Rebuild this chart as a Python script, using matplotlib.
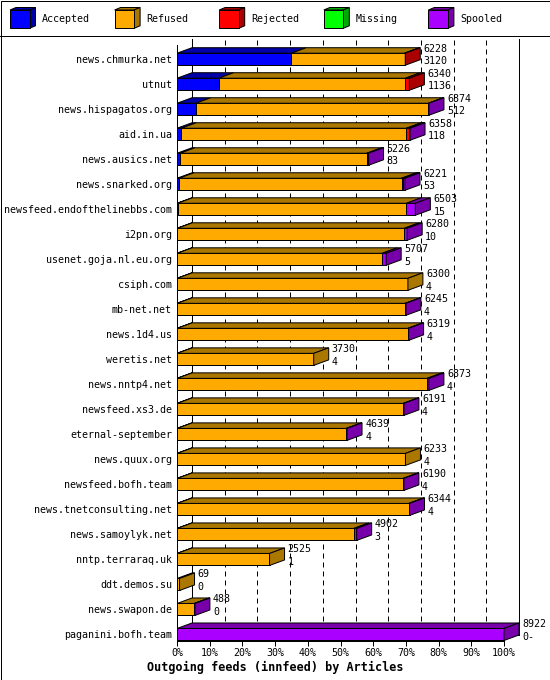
import numpy as np
import matplotlib.pyplot as plt
from matplotlib.patches import Polygon, Rectangle
from matplotlib.lines import Line2D

plt.rcParams['font.family'] = ['DejaVu Sans Mono']
plt.rcParams['font.size'] = 7.2

# feeds, top to bottom
feeds = ['news.chmurka.net', 'utnut', 'news.hispagatos.org', 'aid.in.ua',
         'news.ausics.net', 'news.snarked.org', 'newsfeed.endofthelinebbs.com',
         'i2pn.org', 'usenet.goja.nl.eu.org', 'csiph.com', 'mb-net.net',
         'news.1d4.us', 'weretis.net', 'news.nntp4.net', 'newsfeed.xs3.de',
         'eternal-september', 'news.quux.org', 'newsfeed.bofh.team',
         'news.tnetconsulting.net', 'news.samoylyk.net', 'nntp.terraraq.uk',
         'ddt.demos.su', 'news.swapon.de', 'paganini.bofh.team']
offered = np.array([6228, 6340, 6874, 6358, 5226, 6221, 6503, 6280, 5707, 6300, 6245,
                    6319, 3730, 6873, 6191, 4639, 6233, 6190, 6344, 4902, 2525, 69,
                    488, 8922])
accepted = np.array([3120, 1136, 512, 118, 83, 53, 15, 10, 5, 4, 4, 4, 4, 4, 4, 4, 4,
                     4, 4, 3, 1, 0, 0, 0])
# estimated from the bar segments
rejected = np.array([20, 110, 0, 60, 0, 40, 0, 0, 0, 0, 0, 0, 0, 0, 0, 0, 0, 0, 0, 0,
                     0, 0, 0, 0])
missing = np.zeros(len(feeds), dtype=int)
spooled = np.array([0, 0, 15, 40, 50, 55, 245, 80, 110, 0, 20, 20, 0, 50, 20, 20, 0,
                    20, 20, 80, 0, 0, 20, 8922])
refused = offered - accepted - rejected - missing - spooled

labels = ['Accepted', 'Refused', 'Rejected', 'Missing', 'Spooled']
front_colors = ['#0000FF', '#FFAA00', '#FF0000', '#00FF00', '#AA00FF']
dark_colors = ['#0000A8', '#AA7700', '#AA0000', '#00AA00', '#7700AA']

W, H = 550, 680
fig = plt.figure(figsize=(W / 100, H / 100), dpi=100)

# chart area in pixels
px_left, px_right, px_top, px_bot = 177, 540, 36, 641
pct_px = 3.27
row_px = 25
ax = fig.add_axes([px_left / W, 1 - px_bot / H, (px_right - px_left) / W,
                   (px_bot - px_top) / H])
n = len(feeds)
y = np.arange(n)
top_pad = (59.2 - px_top) / row_px
bot_pad = (px_bot - 634.5) / row_px
ax.set_xlim(0, (px_right - px_left) / pct_px)
ax.set_ylim(n - 1 + bot_pad, -top_pad)
ybot = n - 1 + bot_pad
dx = 15 / pct_px
dy = 5.5 / row_px
bh = 12 / row_px
lw = 0.72

for s in ax.spines.values():
    s.set_visible(False)

# back wall and grid
ax.plot([dx, dx], [-top_pad + 0.12, ybot - dy], color='black', lw=lw, zorder=1)
ax.plot([100 + dx, 100 + dx], [-top_pad + 0.12, ybot - dy], color='black', lw=lw, zorder=1)
for g in range(10, 100, 10):
    ax.plot([g + dx, g + dx], [-top_pad + 0.16, ybot - dy], color='black', lw=lw,
            linestyle=(0, (5, 4)), zorder=1)
ax.plot([dx, 100 + dx], [ybot - dy, ybot - dy], color='black', lw=lw, zorder=1)
ax.plot([0, dx], [ybot, ybot - dy], color='black', lw=lw, zorder=1)
# front axes
ax.plot([0, 0], [-top_pad + 0.36, ybot], color='black', lw=lw, zorder=5, clip_on=False)
ax.plot([0, 100], [ybot, ybot], color='black', lw=lw, zorder=5, clip_on=False)

maxv = offered.max()
segs = np.vstack([accepted, refused, rejected, missing, spooled]).T / maxv * 100

for i in range(n):
    yc = y[i]
    top = yc - bh / 2
    bottom = yc + bh / 2
    left = 0.0
    last = None
    for k in range(5):
        w = segs[i, k]
        if w <= 0:
            continue
        ax.barh(yc, w, left=left, height=bh, color=front_colors[k],
                edgecolor='black', linewidth=lw, zorder=3)
        ax.add_patch(Polygon([(left, top), (left + dx, top - dy), (left + w + dx, top - dy),
                              (left + w, top)], closed=True, facecolor=dark_colors[k],
                             edgecolor='black', linewidth=lw, zorder=3))
        left += w
        last = k
    if last is not None:
        ax.add_patch(Polygon([(left, top), (left + dx, top - dy), (left + dx, bottom - dy),
                              (left, bottom)], closed=True, facecolor=dark_colors[last],
                             edgecolor='black', linewidth=lw, zorder=3))
    acc_txt = str(accepted[i]) + ('-' if i == n - 1 else '')
    ax.annotate(str(offered[i]), (left + dx, yc), xytext=(2.2, 7.6),
                textcoords='offset points', ha='left', va='center', zorder=6)
    ax.annotate(acc_txt, (left + dx, yc), xytext=(2.2, -1.6),
                textcoords='offset points', ha='left', va='center', zorder=6)

ax.set_yticks(y, feeds)
ax.tick_params(axis='y', length=0, pad=3.6)
ticks = np.arange(0, 101, 10)
ax.set_xticks(ticks, [f'{t}%' for t in ticks])
ax.tick_params(axis='x', length=3.6, width=lw, pad=1.5, direction='out')

fig.text(0.5, (H - 667) / H, 'Outgoing feeds (innfeed) by Articles', ha='center',
         va='center', fontsize=8.5, fontweight='bold')

# legend strip
lg = fig.add_axes([0, 1 - 35 / H, 1, 35 / H])
lg.set_xlim(0, W)
lg.set_ylim(35, 0)
lg.axis('off')
for k, lab in enumerate(labels):
    x0 = 10 + k * 104.6
    lg.add_patch(Polygon([(x0, 10), (x0 + 6, 7.5), (x0 + 25.5, 7.5), (x0 + 19.5, 10)],
                         closed=True, facecolor=dark_colors[k], edgecolor='black', lw=lw))
    lg.add_patch(Polygon([(x0 + 19.5, 10), (x0 + 25.5, 7.5), (x0 + 25.5, 25.8), (x0 + 19.5, 28.3)],
                         closed=True, facecolor=dark_colors[k], edgecolor='black', lw=lw))
    lg.add_patch(Rectangle((x0, 10), 19.5, 18.3, facecolor=front_colors[k],
                           edgecolor='black', lw=lw))
    lg.text(x0 + 32, 19.5, lab, ha='left', va='center')

# borders
fig.add_artist(Rectangle((0.5 / W, 0.5 / H), (W - 1) / W, (H - 1) / H, fill=False,
                         edgecolor='black', lw=lw, transform=fig.transFigure))
fig.add_artist(Line2D([0, 1], [1 - 35.5 / H, 1 - 35.5 / H], color='black', lw=lw,
                      transform=fig.transFigure))

fig.savefig('out.png', dpi=100)
